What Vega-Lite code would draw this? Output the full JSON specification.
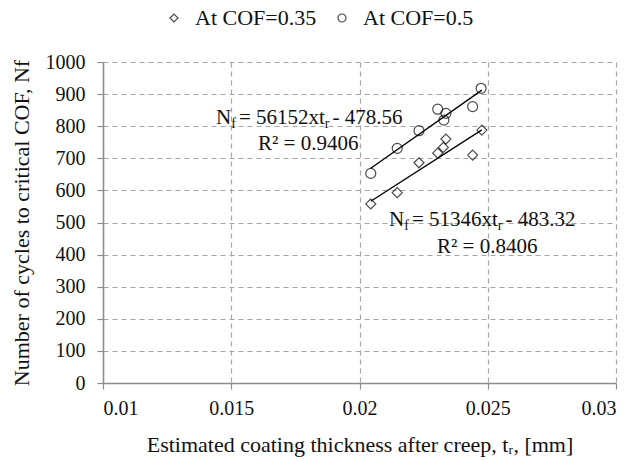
{
  "$schema": "https://vega.github.io/schema/vega-lite/v6.json",
  "autosize": {"type": "none"},
  "width": 513,
  "height": 321,
  "padding": {"left": 103, "top": 62, "right": 22, "bottom": 78},
  "background": "white",
  "config": {
    "view": {"stroke": null},
    "font": "Liberation Serif",
    "axis": {
      "labelFont": "Liberation Serif",
      "titleFont": "Liberation Serif",
      "labelFontSize": 20,
      "titleFontSize": 22,
      "titleFontWeight": "normal",
      "labelColor": "#111",
      "titleColor": "#111",
      "domainColor": "#8c8c8c",
      "domainWidth": 1.5,
      "tickColor": "#8c8c8c",
      "tickWidth": 1.2,
      "tickSize": 6,
      "gridColor": "#a6a6a6",
      "gridDash": [5, 4],
      "gridWidth": 1.2,
      "labelOverlap": false
    },
    "legend": {
      "labelFont": "Liberation Serif",
      "labelFontSize": 22,
      "labelColor": "#111"
    }
  },
  "datasets": {
    "pts": [
      {"t": 0.02044, "n": 558, "series": "At COF=0.35"},
      {"t": 0.02147, "n": 593, "series": "At COF=0.35"},
      {"t": 0.02232, "n": 686, "series": "At COF=0.35"},
      {"t": 0.02305, "n": 716, "series": "At COF=0.35"},
      {"t": 0.02327, "n": 734, "series": "At COF=0.35"},
      {"t": 0.02337, "n": 760, "series": "At COF=0.35"},
      {"t": 0.02441, "n": 710, "series": "At COF=0.35"},
      {"t": 0.02477, "n": 788, "series": "At COF=0.35"},
      {"t": 0.02044, "n": 653, "series": "At COF=0.5"},
      {"t": 0.02147, "n": 731, "series": "At COF=0.5"},
      {"t": 0.02232, "n": 786, "series": "At COF=0.5"},
      {"t": 0.02305, "n": 853, "series": "At COF=0.5"},
      {"t": 0.02337, "n": 840, "series": "At COF=0.5"},
      {"t": 0.02329, "n": 819, "series": "At COF=0.5"},
      {"t": 0.02441, "n": 861, "series": "At COF=0.5"},
      {"t": 0.02474, "n": 918, "series": "At COF=0.5"}
    ],
    "fits": [
      {"t": 0.02044, "n": 566.2, "series": "At COF=0.35"},
      {"t": 0.02477, "n": 788.5, "series": "At COF=0.35"},
      {"t": 0.02044, "n": 669.2, "series": "At COF=0.5"},
      {"t": 0.02477, "n": 912.3, "series": "At COF=0.5"}
    ],
    "notes": [
      {"t": 0.014405, "n": 827, "text": "N", "kind": "main"},
      {"t": 0.014998, "n": 827, "text": "f", "kind": "sub"},
      {"t": 0.015298, "n": 827, "text": "= 56152xt", "kind": "main"},
      {"t": 0.018647, "n": 827, "text": "r", "kind": "sub"},
      {"t": 0.018947, "n": 827, "text": "- 478.56", "kind": "main"},
      {"t": 0.016043, "n": 745, "text": "R² = 0.9406", "kind": "main"},
      {"t": 0.021150, "n": 508, "text": "N", "kind": "main"},
      {"t": 0.021743, "n": 508, "text": "f", "kind": "sub"},
      {"t": 0.022043, "n": 508, "text": "= 51346xt", "kind": "main"},
      {"t": 0.025392, "n": 508, "text": "r", "kind": "sub"},
      {"t": 0.025692, "n": 508, "text": "- 483.32", "kind": "main"},
      {"t": 0.023021, "n": 424, "text": "R² = 0.8406", "kind": "main"}
    ]
  },
  "encoding": {
    "x": {
      "field": "t", "type": "quantitative",
      "scale": {"domain": [0.01, 0.03], "nice": false, "zero": false},
      "axis": {
        "values": [0.01, 0.015, 0.02, 0.025, 0.03],
        "format": "~g",
        "title": "Estimated coating thickness after creep, tᵣ, [mm]",
        "labelPadding": 9,
        "titlePadding": 16
      }
    },
    "y": {
      "field": "n", "type": "quantitative",
      "scale": {"domain": [0, 1000], "nice": false},
      "axis": {
        "values": [0, 100, 200, 300, 400, 500, 600, 700, 800, 900, 1000],
        "tickCount": 11,
        "format": "d",
        "title": "Number of cycles to critical COF, Nf",
        "labelPadding": 12,
        "titlePadding": 12
      }
    }
  },
  "layer": [
    {
      "data": {"name": "fits"},
      "mark": {"type": "line", "color": "black", "strokeWidth": 1.3},
      "encoding": {
        "detail": {"field": "series", "type": "nominal"}
      }
    },
    {
      "data": {"name": "pts"},
      "mark": {"type": "point", "filled": false, "color": "black", "strokeWidth": 1.2, "size": 100},
      "encoding": {
        "shape": {
          "field": "series", "type": "nominal",
          "scale": {"domain": ["At COF=0.35", "At COF=0.5"], "range": ["diamond", "circle"]},
          "legend": {
            "title": null,
            "orient": "none",
            "direction": "horizontal",
            "legendX": 60,
            "legendY": -55,
            "symbolSize": 64,
            "labelOffset": 10,
            "columnPadding": 14,
            "symbolStrokeColor": "black",
            "symbolStrokeWidth": 1.2
          }
        }
      }
    },
    {
      "data": {"name": "notes"},
      "transform": [{"filter": "datum.kind === 'main'"}],
      "mark": {"type": "text", "align": "left", "baseline": "middle", "fontSize": 21, "font": "Liberation Serif", "color": "#111"},
      "encoding": {
        "text": {"field": "text"}
      }
    },
    {
      "data": {"name": "notes"},
      "transform": [{"filter": "datum.kind === 'sub'"}],
      "mark": {"type": "text", "align": "left", "baseline": "middle", "fontSize": 14, "dy": 6, "font": "Liberation Serif", "color": "#111"},
      "encoding": {
        "text": {"field": "text"}
      }
    }
  ]
}
